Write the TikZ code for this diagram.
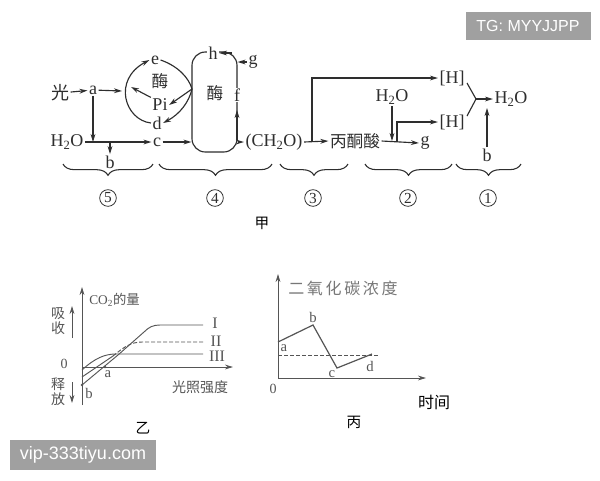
\documentclass[tikz,border=0pt]{standalone}
\usepackage{fontspec}
\setmainfont{Liberation Serif}
\newfontfamily\cjk{Noto Sans CJK SC}
\newfontfamily\wsans{Liberation Sans}
\usetikzlibrary{arrows.meta,decorations.pathreplacing,calc}
\definecolor{ink}{HTML}{2E2E2E}
\definecolor{gink}{HTML}{555555}
\definecolor{wm}{HTML}{A0A0A0}
\tikzset{
  lbl/.style={font=\fontsize{13.5}{15}\selectfont, inner sep=1pt, text=ink},
  cn/.style={font=\cjk\fontsize{12.5}{15}\selectfont, inner sep=1pt, text=ink},
  arr/.style={-{Stealth[length=6pt,width=3.6pt]}, line width=0.85pt, draw=ink},
  ln/.style={line width=0.85pt, draw=ink},
  gl/.style={line width=0.7pt, draw=gink},
  garr/.style={-{Stealth[length=6pt,width=3.6pt]}, line width=0.7pt, draw=gink},
  glbl/.style={font=\fontsize{10.5}{12}\selectfont, inner sep=1pt, text=gink},
  gcn/.style={font=\cjk\fontsize{10.5}{12}\selectfont, inner sep=1pt, text=gink},
  captxt/.style={font=\cjk\fontsize{11}{13}\selectfont, inner sep=1pt, text=black},
  circnum/.style={circle, draw=ink, line width=0.6pt, minimum size=12.5pt, inner sep=0pt, font=\fontsize{11.5}{12}\selectfont, text=ink},
  brc/.style={decorate, decoration={brace, mirror, amplitude=8.5pt}, line width=0.8pt, draw=ink},
  wmbox/.style={fill=wm, text=white, font=\wsans, inner sep=0pt}
}
\begin{document}
\begin{tikzpicture}[x=0.75pt,y=-0.75pt]
\useasboundingbox (0,0) rectangle (600,480);
\fill[white] (0,0) rectangle (600,480);
% watermarks
\node[wmbox, minimum width=93.75pt, minimum height=21pt, font=\wsans\fontsize{12}{14}\selectfont] (tg) at (528,26) {TG: MYYJJPP};
\node[wmbox, minimum width=109pt, minimum height=22.5pt, font=\wsans\fontsize{13.5}{15}\selectfont] (vip) at (83,455) {vip-333tiyu.com};
% ===== 甲 =====
\node[cn, font=\cjk\fontsize{13.5}{15}\selectfont] (guang) at (60,93) {光};
\node[lbl] (a) at (93,90) {a};
\draw[arr] (guang) -- (a);
\node[lbl] (e) at (155,60) {e};
\node[cn] (mei1) at (160,81) {酶};
\node[lbl] (Pi) at (160,105) {Pi};
\node[lbl] (d) at (157,123) {d};
\coordinate (arcL) at (122,91);
\draw[arr] (a) -- (arcL);
\draw[arr] (d.west) .. controls (125,120) and (112,80) .. (e.west);
\coordinate (rj) at (192,89);
\draw[ln] (e.east) .. controls (178,66) and (189,78) .. (rj);
\draw[arr] (rj) .. controls (189,102) and (180,114) .. (d.east);
\draw[arr] (rj) -- (Pi.east);
\draw[arr] (Pi.north west) -- (131,87);
% enzyme box
\node[draw=ink, line width=0.85pt, rounded corners=10pt, minimum width=33.75pt, minimum height=75pt, inner sep=0pt] (box) at (214.5,102) {};
\node[cn] (mei2) at (215,93) {酶};
\node[lbl, fill=white] (h) at (213,53) {h};
\node[lbl] (g1) at (253,62) {g};
\draw[arr] (g1.west) -- (g1.west -| box.east);
\draw[arr] (232,53) -- (h.east);
\node[lbl, fill=white, inner sep=0.5pt] (f) at (237,95) {f};
\draw[arr] (237,140) -- (237,110);
\node[lbl] (h2oL) at (67,142) {H\textsubscript{2}O};
\node[lbl] (c) at (157,142) {c};
\draw[arr] (h2oL.east) -- (c.west);
\draw[arr] (a.south) -- (a.south |- h2oL.east);
\coordinate (bj) at (110,142);
\node[lbl] (b1) at (110,162) {b};
\draw[arr] (bj) -- (b1.north);
\draw[arr] (c.east) -- (c.east -| box.west);
\node[lbl] (ch2o) at (274,142) {(CH\textsubscript{2}O)};
\draw[arr] (box.east |- ch2o.west) -- (ch2o.west);
\node[cn] (pyr) at (355,141) {丙酮酸};
\draw[arr] (ch2o.east) -- (pyr.west);
\node[lbl] (H1) at (452,78) {[H]};
\node[lbl] (H2) at (452,122) {[H]};
\coordinate (br1) at (312,142);
\draw[arr] (br1) |- (H1.west);
\node[lbl] (g2) at (425,143) {g};
\draw[arr] (pyr.east) -- (g2.west);
\node[lbl] (h2oM) at (392,97) {H\textsubscript{2}O};
\draw[arr] (h2oM.south) -- (392,141);
\coordinate (br2) at (397,142);
\draw[arr] (br2) |- (H2.west);
\coordinate (m) at (476,99);
\node[lbl] (h2oR) at (511,99) {H\textsubscript{2}O};
\draw[ln] (467,83) -- (m) -- (467,116);
\draw[arr] (m) -- (h2oR.west);
\node[lbl] (b2) at (487,155) {b};
\draw[arr] (b2.north) -- (487,108);
% braces
\draw[brc] (63,164) -- (153,164);
\draw[brc] (159,164) -- (272,164);
\draw[brc] (280,164) -- (348,164);
\draw[brc] (365,164) -- (452,164);
\draw[brc] (456,164) -- (521,164);
\node[circnum] (n5) at (108,198) {5};
\node[circnum] (n4) at (215,198) {4};
\node[circnum] (n3) at (313,198) {3};
\node[circnum] (n2) at (408,198) {2};
\node[circnum] (n1) at (488,198) {1};
\node[captxt] (jia) at (262,223) {甲};
% ===== 乙 =====
\draw[garr] (82,405) -- (82,287);
\draw[garr] (82,367) -- (233,367);
\node[anchor=west, inner sep=0pt, text=gink] (co2) at (89,300) {\fontsize{10}{12}\selectfont CO\textsubscript{2}\cjk 的量};
\node[gcn, align=center, font=\cjk\fontsize{10.5}{11.5}\selectfont] (xs) at (58,321) {吸\\收};
\draw[garr] (72,338) -- (72,306);
\node[gcn, align=center, font=\cjk\fontsize{10.5}{11.5}\selectfont] (sf) at (58,392) {释\\放};
\draw[garr] (72,382) -- (72,403);
\node[glbl] (o1) at (64,364) {0};
\node[gcn] (gz) at (200,387) {光照强度};
\draw[gl] (82,370) .. controls (95,358) and (105,354) .. (116,354) -- (203,354);
\draw[gl] (82,377) -- (113,356);
\draw[gl, dashed, dash pattern=on 3pt off 1.5pt] (113,356) .. controls (123,348) and (130,342) .. (142,342) -- (203,342);
\draw[gl] (82,385) -- (118,355) -- (144,332) .. controls (149,327) and (153,325) .. (160,325) -- (203,325);
\fill[gink] (105,367) circle (1.3);
\fill[gink] (82,385) circle (1.3);
\node[glbl, font=\fontsize{11}{12}\selectfont] (pa) at (108,374) {a};
\node[glbl, font=\fontsize{11}{12}\selectfont] (pb) at (89,393) {b};
\node[glbl, font=\fontsize{12}{13}\selectfont] (r1) at (215,323) {I};
\node[glbl, font=\fontsize{12}{13}\selectfont] (r2) at (216,341) {II};
\node[glbl, font=\fontsize{12}{13}\selectfont] (r3) at (217,356) {III};
\node[captxt] (yi) at (143,428) {乙};
% ===== 丙 =====
\draw[garr] (278,378) -- (278,274);
\draw[garr] (278,378) -- (426,378);
\node[glbl] (o2) at (273,389) {0};
\node[gcn, font=\cjk\fontsize{12}{14}\selectfont, text=gink!80] (eyht) at (343,288) {二\,氧\,化\,碳\,浓\,度};
\draw[gl, line width=0.9pt] (278,342) -- (313,325) -- (337,368) -- (372,354);
\draw[gl, dashed, dash pattern=on 3pt off 1.5pt] (278,355) -- (379,355);
\node[glbl, font=\fontsize{11}{12}\selectfont] (la) at (284,348) {a};
\node[glbl, font=\fontsize{11}{12}\selectfont] (lb) at (313,317) {b};
\node[glbl, font=\fontsize{11}{12}\selectfont] (lc) at (332,374) {c};
\node[glbl, font=\fontsize{11}{12}\selectfont] (ld) at (370,366) {d};
\node[captxt, font=\cjk\fontsize{12}{14}\selectfont] (sj) at (434,402) {时间};
\node[captxt] (bing) at (354,422) {丙};
\end{tikzpicture}
\end{document}
